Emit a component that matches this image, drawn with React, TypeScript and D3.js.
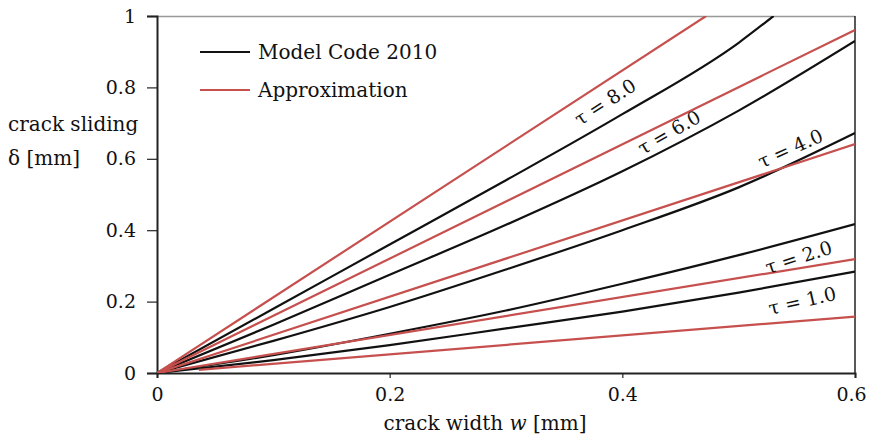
import React, { useEffect, useRef } from 'react';
import * as d3 from 'd3';

// crack width w [mm] sample points for the Model Code 2010 curves
const wPoints = [0, 0.1, 0.2, 0.3, 0.4, 0.5, 0.6];

// Model Code 2010 crack sliding δ [mm]
const mc8 = [0, 0.18, 0.36, 0.54, 0.725, 0.925];
const mc8End = [0.53, 1.0];
const mc6 = [0, 0.135, 0.275, 0.415, 0.565, 0.735, 0.93];
const mc4 = [0, 0.09, 0.185, 0.29, 0.4, 0.52, 0.672];
const mc2 = [0, 0.05, 0.11, 0.175, 0.25, 0.33, 0.417];
const mc1 = [0, 0.036, 0.078, 0.125, 0.172, 0.225, 0.284];

// approximation lines: [w, δ] start and end
const ap8 = [[0, 0], [0.472, 1.0]];
const ap6 = [[0, 0], [0.6, 0.961]];
const ap4 = [[0, 0], [0.6, 0.641]];
const ap2 = [[0, 0], [0.6, 0.319]];
const ap1 = [[0.036, 0.009], [0.6, 0.158]];

const xTicks = [0, 0.2, 0.4, 0.6];
const yTicks = [0, 0.2, 0.4, 0.6, 0.8, 1];

// τ labels along the curves
const tauLabels = [
  { text: 'τ = 8.0', w: 0.386, d: 0.755, angle: -33 },
  { text: 'τ = 6.0', w: 0.441, d: 0.67, angle: -30 },
  { text: 'τ = 4.0', w: 0.545, d: 0.625, angle: -24 },
  { text: 'τ = 2.0', w: 0.552, d: 0.32, angle: -18 },
  { text: 'τ = 1.0', w: 0.555, d: 0.198, angle: -13 },
];

const RED = '#c6504e';
const FONT = '"DejaVu Serif", "Liberation Serif", serif';

const App = () => {
  const svgRef = useRef(null);

  useEffect(() => {
    drawChart();
  }, []);

  const drawChart = () => {
    const svg = d3.select(svgRef.current);
    svg.selectAll('*').remove();

    const x = d3.scaleLinear().domain([0, 0.6]).range([157, 855]);
    const y = d3.scaleLinear().domain([0, 1]).range([373, 16]);

    svg.append('defs')
      .append('clipPath')
      .attr('id', 'plot')
      .append('rect')
      .attr('x', 157)
      .attr('y', 16)
      .attr('width', 698)
      .attr('height', 357);

    // frame: grey top, black right
    svg.append('line')
      .attr('x1', 157).attr('x2', 855).attr('y1', 16.5).attr('y2', 16.5)
      .attr('stroke', '#999').attr('stroke-width', 1.5);
    svg.append('line')
      .attr('x1', 855).attr('x2', 855).attr('y1', 16).attr('y2', 373)
      .attr('stroke', '#222').attr('stroke-width', 1.5);

    const xAxis = d3.axisBottom(x)
      .tickValues(xTicks)
      .tickSize(5)
      .tickFormat(d => (d === 0 ? '0' : d3.format('.1f')(d)));
    const gx = svg.append('g').attr('transform', 'translate(0,373)').call(xAxis);
    gx.select('.domain').attr('stroke', '#222').attr('stroke-width', 2);
    gx.selectAll('.tick line').attr('stroke', '#222').attr('stroke-width', 1.2);
    gx.selectAll('.tick text')
      .attr('font-family', FONT).attr('font-size', 19).attr('fill', '#111').attr('dy', '1.05em')
      .attr('dx', d => (d === 0.6 ? -4 : 0));

    const yAxis = d3.axisLeft(y)
      .tickValues(yTicks)
      .tickSize(10)
      .tickFormat(d => (d === 0 || d === 1 ? String(d) : d3.format('.1f')(d)));
    const gy = svg.append('g').attr('transform', 'translate(157,0)').call(yAxis);
    gy.select('.domain').attr('stroke', '#222').attr('stroke-width', 2);
    gy.selectAll('.tick line').attr('stroke', '#222').attr('stroke-width', 1.2);
    gy.selectAll('.tick text')
      .attr('font-family', FONT).attr('font-size', 19).attr('fill', '#111').attr('x', -21);

    const plot = svg.append('g').attr('clip-path', 'url(#plot)');

    const curve = d3.line()
      .x(d => x(d[0]))
      .y(d => y(d[1]))
      .curve(d3.curveMonotoneX);

    const straight = d3.line()
      .x(d => x(d[0]))
      .y(d => y(d[1]));

    const black = [
      [...mc8.map((v, i) => [wPoints[i], v]), mc8End],
      mc6.map((v, i) => [wPoints[i], v]),
      mc4.map((v, i) => [wPoints[i], v]),
      mc2.map((v, i) => [wPoints[i], v]),
      mc1.map((v, i) => [wPoints[i], v]),
    ];
    const red = [ap8, ap6, ap4, ap2, ap1];

    plot.selectAll('path.mc')
      .data(black)
      .join('path')
      .attr('class', 'mc')
      .attr('d', curve)
      .attr('fill', 'none')
      .attr('stroke', '#111')
      .attr('stroke-width', 2.2);

    plot.selectAll('path.ap')
      .data(red)
      .join('path')
      .attr('class', 'ap')
      .attr('d', straight)
      .attr('fill', 'none')
      .attr('stroke', RED)
      .attr('stroke-width', 2.2);

    svg.selectAll('text.tau')
      .data(tauLabels)
      .join('text')
      .attr('class', 'tau')
      .attr('transform', d => `translate(${x(d.w)},${y(d.d)}) rotate(${d.angle})`)
      .attr('text-anchor', 'middle')
      .attr('dominant-baseline', 'middle')
      .attr('font-family', FONT)
      .attr('font-size', 19)
      .attr('fill', '#111')
      .text(d => d.text);

    // legend
    const legend = [
      { label: 'Model Code 2010', color: '#111' },
      { label: 'Approximation', color: RED },
    ];
    const lg = svg.selectAll('g.legend')
      .data(legend)
      .join('g')
      .attr('class', 'legend')
      .attr('transform', (d, i) => `translate(200,${52 + i * 38})`);
    lg.append('line')
      .attr('x1', 0).attr('x2', 50)
      .attr('stroke', d => d.color)
      .attr('stroke-width', 2.2);
    lg.append('text')
      .attr('x', 58)
      .attr('dy', '0.35em')
      .attr('font-family', FONT)
      .attr('font-size', 20)
      .attr('fill', '#111')
      .text(d => d.label);

    // axis titles
    svg.append('text')
      .attr('x', 8).attr('y', 131)
      .attr('font-family', FONT).attr('font-size', 20).attr('fill', '#111')
      .text('crack sliding');
    svg.append('text')
      .attr('x', 8).attr('y', 165)
      .attr('font-family', FONT).attr('font-size', 20).attr('fill', '#111')
      .text('δ [mm]');

    const xt = svg.append('text')
      .attr('x', 485).attr('y', 430)
      .attr('text-anchor', 'middle')
      .attr('font-family', FONT).attr('font-size', 20).attr('fill', '#111');
    xt.append('tspan').text('crack width ');
    xt.append('tspan').attr('font-style', 'italic').text('w');
    xt.append('tspan').text(' [mm]');
  };

  return (
    <svg
      ref={svgRef}
      width={869}
      height={440}
      style={{ position: 'absolute', left: 0, top: 0, background: '#fff' }}
    ></svg>
  );
};

export default App;
